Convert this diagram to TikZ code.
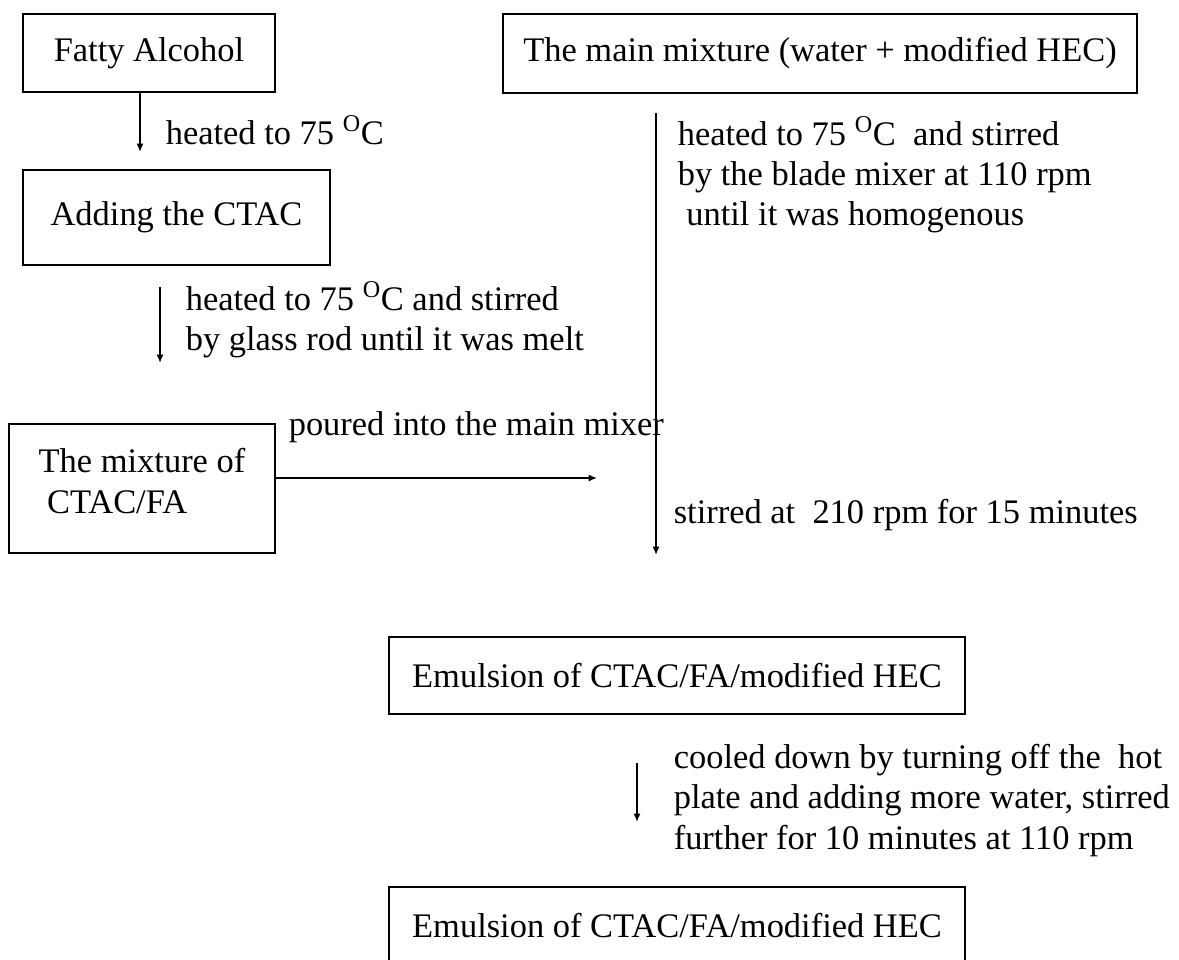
\documentclass[tikz,border=0pt]{standalone}
\usepackage{fontspec}
\setmainfont{Liberation Serif}
\usepackage{tikz}
\usetikzlibrary{arrows.meta}

\begin{document}
\begin{tikzpicture}[x=0.025cm, y=-0.025cm, line width=1.1pt, >={Latex[length=6pt,width=5pt]},
  every node/.style={font=\fontsize{24.5}{28.5}\selectfont},
  stepbox/.style={draw, shape=rectangle, inner sep=0pt},
  lbl/.style={align=left, inner sep=0pt}]

\useasboundingbox (0,0) rectangle (1179,960);

\node[stepbox, minimum width=6.3cm, minimum height=1.95cm] (fatty) at (149,53) {Fatty Alcohol};
\node[stepbox, minimum width=7.675cm, minimum height=2.375cm] (ctac) at (176.5,217.5) {Adding the CTAC};
\node[stepbox, minimum width=6.65cm, minimum height=3.225cm] (cfa) at (142,488.5) {};
\node[lbl] (cfatxt) at (142,481) {The mixture of\\\hspace{6pt}CTAC/FA};

\node[stepbox, minimum width=15.85cm, minimum height=1.975cm] (main) at (820,53.5) {The main mixture (water + modified HEC)};
\node[stepbox, minimum width=14.4cm, minimum height=1.925cm] (emul1) at (677,675.5) {Emulsion of CTAC/FA/modified HEC};
\node[stepbox, minimum width=14.4cm, minimum height=1.925cm] (emul2) at (677,925.5) {Emulsion of CTAC/FA/modified HEC};

\coordinate (fattyend) at (140,152);
\coordinate (ctactop) at (160,287);
\coordinate (ctacend) at (160,363);
\coordinate (pourend) at (597,478);
\coordinate (maintop) at (656,113);
\coordinate (mainend) at (656,555);
\coordinate (cooltop) at (637,763);
\coordinate (coolend) at (637,822);

\path[->] (fatty.south -| fattyend) edge node[lbl, right=0.625cm, yshift=-0.2cm] {heated to 75 \textsuperscript{O}C} (fattyend);
\path[->] (ctactop) edge node[lbl, right=0.625cm, yshift=0.125cm] {heated to 75 \textsuperscript{O}C and stirred\\by glass rod until it was melt} (ctacend);

\path[->] (cfa.east |- pourend) edge (pourend);
\node[lbl, anchor=west] (pourtxt) at (288,427) {poured into the main mixer};

\path[->] (maintop) edge (mainend);
\node[lbl, anchor=west] (mixtxt) at (677,175) {heated to 75 \textsuperscript{O}C\ \ and stirred\\by the blade mixer at 110 rpm\\\ until it was homogenous};
\node[lbl, anchor=west] (stirtxt) at (673,515) {stirred at\ \ 210 rpm for 15 minutes};

\path[->] (cooltop) edge node[lbl, right=0.9cm, yshift=-0.2cm] {cooled down by turning off the\ \ hot\\plate and adding more water, stirred\\further for 10 minutes at 110 rpm} (coolend);

\end{tikzpicture}
\end{document}
